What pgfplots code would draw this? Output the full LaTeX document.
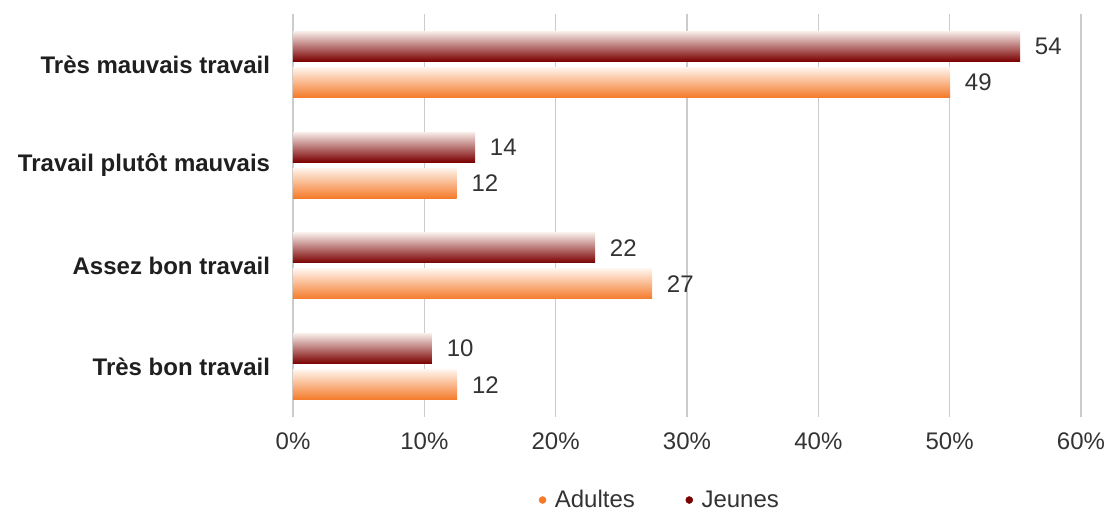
\documentclass[border=0pt]{standalone}
\usepackage{pgfplots}
\pgfplotsset{compat=1.18}
\usepackage{fontspec}
\setmainfont{Liberation Sans}
\definecolor{jeuneD}{HTML}{7A0000}
\definecolor{jeuneL}{HTML}{F7ECE8}
\definecolor{adulteD}{HTML}{F47A2A}
\definecolor{adulteL}{HTML}{FFF4EC}
\definecolor{gridc}{HTML}{CCCCCC}
\definecolor{txt}{HTML}{333333}
\pgfplotsset{
  jeune/.style={draw=none, bar shift=13.5pt, top color=jeuneL, bottom color=jeuneD, forget plot},
  adulte/.style={draw=none, bar shift=-13.5pt, top color=adulteL, bottom color=adulteD, forget plot},
}
\begin{document}
\begin{tikzpicture}
\useasboundingbox (0,0) rectangle (832.5pt,385.5pt);
\begin{axis}[
  at={(219.75pt,72.75pt)}, anchor=south west,
  scale only axis,
  width=591pt, height=302.25pt,
  xmin=0, xmax=60, ymin=-0.5, ymax=3.5,
  xtick={0,10,...,60},
  xticklabels={0\%,10\%,20\%,30\%,40\%,50\%,60\%},
  ytick={0,1,2,3},
  yticklabels={Très bon travail,Assez bon travail,Travail plutôt mauvais,Très mauvais travail},
  axis line style={draw=none},
  major tick length=0pt,
  xmajorgrids,
  grid style={gridc, line width=0.9pt},
  tick label style={font=\fontsize{18}{20}\selectfont, text=txt},
  xticklabel style={anchor=base, inner sep=0pt, yshift=-24.75pt},
  yticklabel style={anchor=east, inner sep=0pt, xshift=-17pt, font=\fontsize{18}{20}\selectfont\bfseries, text=black!88},
  xbar, bar width=22.5pt,
  point meta=explicit symbolic,
  nodes near coords,
  nodes near coords style={anchor=west, inner sep=0pt, xshift=11pt, font=\fontsize{18}{20}\selectfont, text=txt},
  legend style={at={(0.466,-0.206)}, anchor=center, draw=none, fill=none,
    font=\fontsize{18}{20}\selectfont, text=txt, legend columns=2,
    column sep=0pt, /tikz/every even column/.append style={column sep=36pt},
    nodes={inner sep=2pt}},
  clip=false,
]
% Jeunes
\addplot[jeune] coordinates {(55.36,3) [54]};
\addplot[jeune] coordinates {(13.86,2) [14]};
\addplot[jeune] coordinates {(23.0,1) [22]};
\addplot[jeune] coordinates {(10.58,0) [10]};
% Adultes
\addplot[adulte] coordinates {(50.03,3) [49]};
\addplot[adulte] coordinates {(12.46,2) [12]};
\addplot[adulte] coordinates {(27.34,1) [27]};
\addplot[adulte] coordinates {(12.5,0) [12]};
\addlegendimage{legend image code/.code={\fill[adulteD] (0cm,0cm) circle (2.6pt); \path (7pt,0pt);}}
\addlegendentry{Adultes}
\addlegendimage{legend image code/.code={\fill[jeuneD] (0cm,0cm) circle (2.6pt); \path (7pt,0pt);}}
\addlegendentry{Jeunes}
\end{axis}
\end{tikzpicture}
\end{document}
